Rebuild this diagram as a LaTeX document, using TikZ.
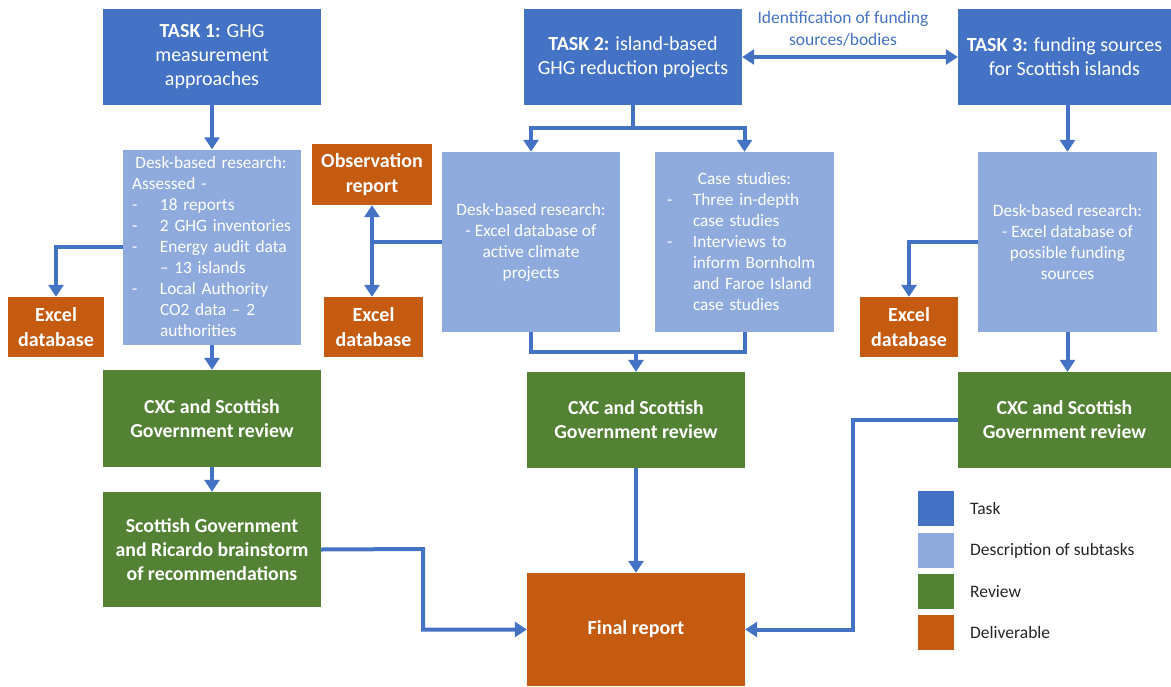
\documentclass[tikz,border=0pt]{standalone}
\usepackage{fontspec}
\setmainfont{Carlito}
\usetikzlibrary{arrows.meta}
\definecolor{taskblue}{HTML}{4472C4}
\definecolor{subblue}{HTML}{8FAADC}
\definecolor{revgreen}{HTML}{548235}
\definecolor{delorange}{HTML}{C55A11}
\definecolor{legtext}{HTML}{262626}
\newcommand{\bul}[2]{\mbox{\makebox[#1][l]{-}#2}}
\newcommand{\cont}[2]{\mbox{\hspace*{#1}#2}}
\begin{document}
\begin{tikzpicture}[x=1pt,y=-1pt,
  base/.style={rectangle, inner sep=0pt, text=white, align=center},
  taskbox/.style={base, fill=taskblue, font=\fontsize{20}{24}\selectfont},
  subbox/.style={base, fill=subblue, font=\fontsize{17.3}{21}\selectfont},
  revbox/.style={base, fill=revgreen, font=\fontsize{19.8}{24}\selectfont\bfseries},
  delbox/.style={base, fill=delorange, font=\fontsize{20}{25}\selectfont\bfseries},
  legbox/.style={rectangle, inner sep=0pt, minimum width=36, minimum height=35},
  legtxt/.style={anchor=west, inner sep=0pt, text=legtext, font=\fontsize{17.5}{20}\selectfont},
  conn/.style={draw=taskblue, line width=4pt},
  arr/.style={conn, -{Triangle[width=15pt,length=12pt]}},
  arrs/.style={conn, {Triangle[width=15pt,length=12pt]}-{Triangle[width=15pt,length=12pt]}}
]
\useasboundingbox (0,0) rectangle (1171,686);

% tasks
\node[taskbox, minimum width=218, minimum height=96] (task1) at (212,57)
  {\textbf{TASK 1:} GHG\\measurement\\approaches};
\node[taskbox, minimum width=218, minimum height=96] (task2) at (633,57)
  {\textbf{TASK 2:} island-based\\GHG reduction projects};
\node[taskbox, minimum width=213, minimum height=96] (task3) at (1064.5,57)
  {\textbf{TASK 3:} funding sources\\for Scottish islands};

% subtasks
\node[subbox, minimum width=178, minimum height=195, text width=160, align=left] (sub1) at (212,247)
  {\makebox[158pt][c]{Desk-based research:}\\
   Assessed -\\
   \bul{28pt}{18 reports}\\
   \bul{28pt}{2 GHG inventories}\\
   \bul{28pt}{Energy audit data}\\
   \cont{28pt}{– 13 islands}\\
   \bul{28pt}{Local Authority}\\
   \cont{28pt}{CO2 data – 2}\\
   \cont{28pt}{authorities}};
\node[subbox, minimum width=178, minimum height=180] (sub2a) at (531,242)
  {Desk-based research:\\- Excel database of\\active climate\\projects};
\node[subbox, minimum width=179, minimum height=180, text width=155, align=left] (sub2b) at (744.5,242)
  {\makebox[155pt][c]{Case studies:}\\
   \bul{26pt}{Three in-depth}\\
   \cont{26pt}{case studies}\\
   \bul{26pt}{Interviews to}\\
   \cont{26pt}{inform Bornholm}\\
   \cont{26pt}{and Faroe Island}\\
   \cont{26pt}{case studies}};
\node[subbox, minimum width=179, minimum height=180] (sub3) at (1067.5,242)
  {Desk-based research:\\- Excel database of\\possible funding\\sources};

% deliverables
\node[delbox, minimum width=120, minimum height=61] (obs) at (372,174.5) {Observation\\report};
\node[delbox, minimum width=96, minimum height=60] (xl1) at (56,327) {Excel\\database};
\node[delbox, minimum width=99, minimum height=60] (xl2) at (373.5,327) {Excel\\database};
\node[delbox, minimum width=98, minimum height=60] (xl3) at (909,327) {Excel\\database};

% reviews
\node[revbox, minimum width=218, minimum height=97] (rev1) at (212,418.5) {CXC and Scottish\\Government review};
\node[revbox, minimum width=218, minimum height=96] (rev2) at (636,420) {CXC and Scottish\\Government review};
\node[revbox, minimum width=213, minimum height=96] (rev3) at (1064.5,420) {CXC and Scottish\\Government review};
\node[revbox, minimum width=218, minimum height=115] (brain) at (212,549.5)
  {Scottish Government\\and Ricardo brainstorm\\of recommendations};

% final
\node[delbox, minimum width=218, minimum height=113] (final) at (636,629.5) {Final report};

% label between task 2 and 3
\node[inner sep=0pt, text=taskblue, align=center, font=\fontsize{17.5}{22}\selectfont] (lab) at (843,29)
  {Identification of funding\\sources/bodies};

% legend
\node[legbox, fill=taskblue] (lg1) at (936,508.5) {};
\node[legbox, fill=subblue] (lg2) at (936,550.5) {};
\node[legbox, fill=revgreen] (lg3) at (936,591.5) {};
\node[legbox, fill=delorange] (lg4) at (936,632.5) {};
\node[legtxt] (lt1) at (970,508.5) {Task};
\node[legtxt] (lt2) at (970,550.5) {Description of subtasks};
\node[legtxt] (lt3) at (970,591.5) {Review};
\node[legtxt] (lt4) at (970,632.5) {Deliverable};

% connectors: task 1 column
\draw[arr] (task1.south) -- (sub1.north);
\draw[arr] (sub1.west) -| (xl1.north);
\draw[arr] (sub1.south) -- (rev1.north);
\draw[arr] (rev1.south) -- (brain.north);
\coordinate (b1) at (423,549);
\draw[arr] (brain.east) -- (b1) |- (final.west);

% task 2 column
\coordinate (t2j) at (633,128);
\draw[conn] (task2.south) -- (t2j);
\draw[arr] (t2j) -| (sub2a.north);
\draw[arr] (t2j) -| (sub2b.north);
\coordinate (oj) at (obs.south |- sub2a.west);
\draw[conn] (sub2a.west) -- (oj);
\draw[arr] (oj) -- (obs.south);
\draw[arr] (oj) -- (oj |- xl2.north);
\coordinate (s2j) at (rev2.north |- 0,352);
\draw[conn] (sub2a.south) |- (s2j) -| (sub2b.south);
\draw[arr] (s2j) -- (rev2.north);
\draw[arr] (rev2.south) -- (final.north);

% task 3 column
\draw[arrs] (task2.east) -- (task3.west);
\draw[arr] (sub3.north |- task3.south) -- (sub3.north);
\draw[arr] (sub3.west) -| (xl3.north);
\draw[arr] (sub3.south) -- (sub3.south |- rev3.north);
\coordinate (r3) at (853,420);
\draw[arr] (rev3.west) -- (r3) |- (final.east);
\end{tikzpicture}
\end{document}
